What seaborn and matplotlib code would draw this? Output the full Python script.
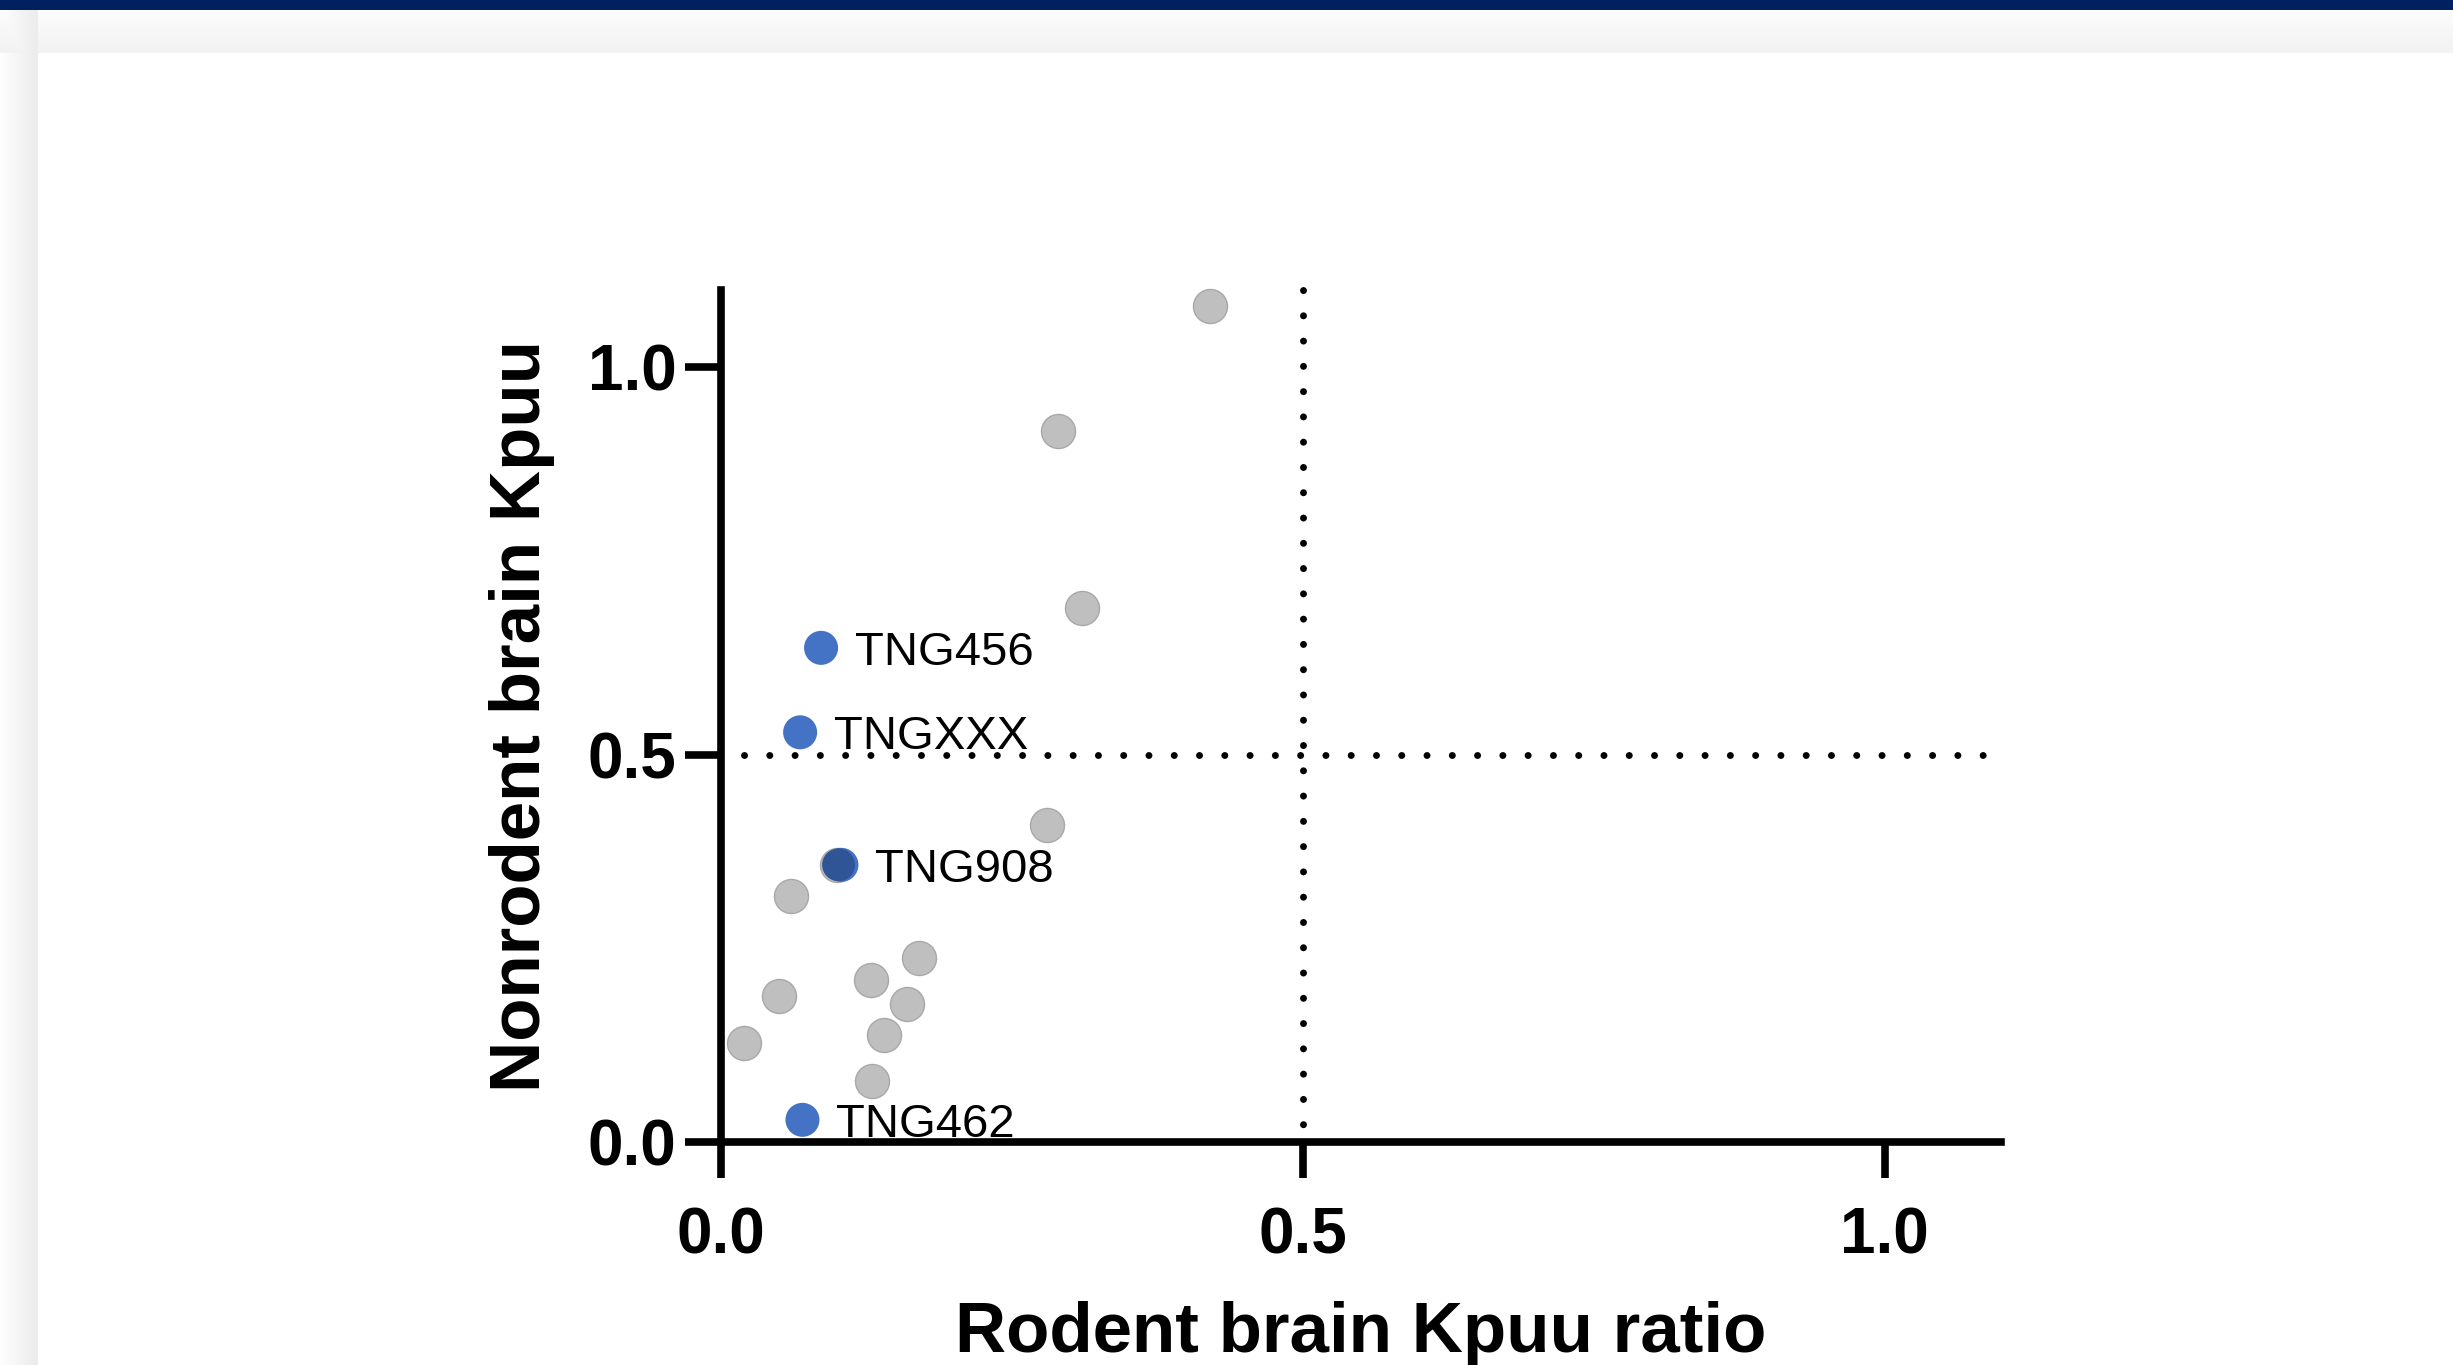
import numpy as np
import pandas as pd
import matplotlib
matplotlib.use("Agg")
import matplotlib.pyplot as plt
import seaborn as sns

# ---------------- data ----------------
other_x = [0.420, 0.290, 0.310, 0.280, 0.0995, 0.060, 0.170, 0.129, 0.160, 0.050, 0.140, 0.020, 0.130]
other_y = [1.079, 0.918, 0.689, 0.409, 0.358, 0.318, 0.238, 0.209, 0.178, 0.189, 0.138, 0.128, 0.079]

named_labels = ["TNG456", "TNGXXX", "TNG908", "TNG462"]
named_x = [0.086, 0.068, 0.1035, 0.070]
named_y = [0.638, 0.529, 0.358, 0.029]

highlight_x = [0.101]
highlight_y = [0.358]

x_ticks = [0.0, 0.5, 1.0]
y_ticks = [0.0, 0.5, 1.0]
x_tick_labels = ["0.0", "0.5", "1.0"]
y_tick_labels = ["0.0", "0.5", "1.0"]
threshold_x = 0.5
threshold_y = 0.5

x_label = "Rodent brain Kpuu ratio"
y_label = "Nonrodent brain Kpuu"

# ---------------- style ----------------
sns.set_style("white")
plt.rcParams["font.family"] = ["Liberation Sans", "DejaVu Sans"]
plt.rcParams["text.color"] = "black"
plt.rcParams["axes.labelcolor"] = "black"
plt.rcParams["xtick.color"] = "black"
plt.rcParams["ytick.color"] = "black"

W, H = 2453, 1365
fig = plt.figure(figsize=(W / 100, H / 100), dpi=100)

# background: navy band + card with soft shadow
bg = np.full((H, W, 3), 255, dtype=np.uint8)
bg[:10, :, :] = np.array([0, 32, 96], dtype=np.uint8)
top = np.linspace(252, 242, 53 - 10)
for i, r in enumerate(range(10, 53)):
    bg[r, :, :] = int(top[i])
left = np.linspace(254, 236, 38)
for j in range(38):
    col = bg[10:, j, :].astype(int)
    bg[10:, j, :] = np.minimum(col, int(left[j])).astype(np.uint8)
bax = fig.add_axes([0, 0, 1, 1], zorder=-10)
bax.imshow(bg, aspect="auto", interpolation="nearest", extent=[0, W, H, 0])
bax.set_axis_off()

ax_w = 1280 / W
ax_h = 852.5 / H
ax = fig.add_axes([721 / W, (H - 1142.3) / H, ax_w, ax_h])
ax.set_facecolor("none")

df_other = pd.DataFrame({"x": other_x, "y": other_y})
df_named = pd.DataFrame({"x": named_x, "y": named_y, "name": named_labels})
df_hi = pd.DataFrame({"x": highlight_x, "y": highlight_y})

sns.scatterplot(data=df_other, x="x", y="y", ax=ax, s=600, color="#BFBFBF",
                edgecolor="#A8A8A8", linewidth=1.0, legend=False, zorder=3, clip_on=False)
sns.scatterplot(data=df_named, x="x", y="y", ax=ax, s=600, color="#4472C4",
                edgecolor="none", linewidth=0, legend=False, zorder=4, clip_on=False)
sns.scatterplot(data=df_hi, x="x", y="y", ax=ax, s=560, color="#2F5597",
                edgecolor="none", linewidth=0, legend=False, zorder=5, clip_on=False)

for nm, xx, yy in zip(named_labels, named_x, named_y):
    ax.annotate(nm, (xx, yy), xytext=(24.5, 0), textcoords="offset points",
                ha="left", va="center_baseline", fontsize=34, color="black", zorder=6)

# dotted threshold lines
dot = dict(color="black", linewidth=5, linestyle=(0, (0.01, 3.63)),
           dash_capstyle="round", zorder=2, clip_on=False)
ax.plot([threshold_x, threshold_x], [1.1, 0], **dot)
ax.plot([0.02, 1.09], [threshold_y, threshold_y], **dot)

ax.set_xlim(0, 1.1)
ax.set_ylim(0, 1.1)
for s in ["top", "right"]:
    ax.spines[s].set_visible(False)
for s in ["left", "bottom"]:
    ax.spines[s].set_linewidth(5.5)
    ax.spines[s].set_color("black")
    ax.spines[s].set_zorder(7)

ax.set_xticks(x_ticks, x_tick_labels, fontsize=46, fontweight="bold", color="black")
ax.set_yticks(y_ticks, y_tick_labels, fontsize=46, fontweight="bold", color="black")
ax.tick_params(axis="both", which="major", direction="out", length=26, width=5.5,
               color="black", bottom=True, left=True, top=False, right=False)
ax.tick_params(axis="x", pad=20)
ax.tick_params(axis="y", pad=6)

ax.set_xlabel(x_label, fontsize=51, fontweight="bold", color="black")
ax.set_ylabel(y_label, fontsize=51, fontweight="bold", color="black")
ax.xaxis.set_label_coords(0.5, -0.186)
ax.yaxis.set_label_coords(-0.13, 0.5)

fig.savefig("out.png", dpi=100)
